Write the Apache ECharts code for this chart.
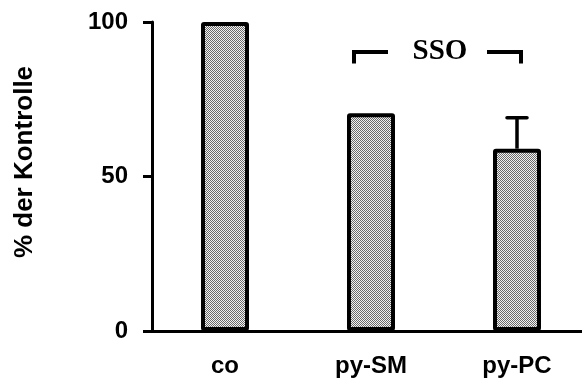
<!DOCTYPE html>
<html>
<head>
<meta charset="utf-8">
<script src="https://cdn.jsdelivr.net/npm/echarts@6/dist/echarts.min.js"></script>
<style>
  html, body { margin: 0; padding: 0; background: #fff; }
  #chart { width: 582px; height: 383px; }
</style>
</head>
<body>
<div id="chart"></div>
<script>
// Relative values (% of control) with standard deviation
const categories = ['co', 'py-SM', 'py-PC'];
const values = [100, 70.5, 59];
const errors = [0, 0, 10];
const yTicks = [0, 50, 100];

// SSO bracket spans the two treated groups
const bracketLabel = 'SSO';
const bracketLevel = 90.3;
const bracketDrop = 86.6;

// Fine checkered fill for the bars
function makePattern() {
  const c = document.createElement('canvas');
  c.width = 2; c.height = 2;
  const ctx = c.getContext('2d');
  ctx.fillStyle = '#f2f2f2';
  ctx.fillRect(0, 0, 2, 2);
  ctx.fillStyle = '#6a6a6a';
  ctx.fillRect(0, 0, 1, 1);
  ctx.fillRect(1, 1, 1, 1);
  return c;
}

const chart = echarts.init(document.getElementById('chart'), null, { renderer: 'canvas' });
const font = 'Arial';

chart.setOption({
  animation: false,
  backgroundColor: '#fff',
  grid: { left: 152, width: 438, top: 22, bottom: 52, outerBoundsMode: 'none', containLabel: false },
  xAxis: {
    type: 'category',
    data: categories,
    axisLine: { lineStyle: { color: '#000', width: 3 } },
    axisTick: { show: false },
    axisLabel: { color: '#000', fontFamily: font, fontWeight: 'bold', fontSize: 24, margin: 23 }
  },
  yAxis: {
    type: 'value',
    min: 0, max: 100, interval: 50,
    axisLine: { show: true, lineStyle: { color: '#000', width: 3 } },
    axisTick: { show: true, length: 9, lineStyle: { color: '#000', width: 3 } },
    splitLine: { show: false },
    axisLabel: {
      color: '#000', fontFamily: font, fontWeight: 'bold', fontSize: 24, margin: 24,
      formatter: v => (yTicks.indexOf(v) >= 0 ? String(v) : '')
    }
  },
  series: [
    {
      type: 'bar',
      data: values,
      barWidth: 48,
      itemStyle: {
        color: { image: makePattern(), repeat: 'repeat' },
        borderColor: '#000',
        borderWidth: 4,
        borderRadius: 1
      },
      z: 2
    },
    {
      type: 'custom',
      z: 1,
      data: categories.map((c, i) => [i, values[i], errors[i]]),
      renderItem: function (params, api) {
        const err = api.value(2);
        if (!err) return null;
        const top = api.coord([api.value(0), api.value(1) + err]);
        const base = api.coord([api.value(0), api.value(1)]);
        const half = 10;
        return {
          type: 'group',
          children: [
            { type: 'line', shape: { x1: top[0], y1: top[1], x2: base[0], y2: base[1] },
              style: { stroke: '#000', lineWidth: 3.5 } },
            { type: 'line', shape: { x1: top[0] - half, y1: top[1], x2: top[0] + half, y2: top[1] },
              style: { stroke: '#000', lineWidth: 3.5, lineCap: 'round' } }
          ]
        };
      }
    }
  ]
});

// Bracket, label and axis title
function drawBracket() {
  const left = chart.convertToPixel({ xAxisIndex: 0, yAxisIndex: 0 }, [1, bracketLevel]);
  const right = chart.convertToPixel({ xAxisIndex: 0, yAxisIndex: 0 }, [2, bracketLevel]);
  const drop = chart.convertToPixel({ yAxisIndex: 0 }, bracketDrop);
  const y = left[1];
  const mid = (left[0] + right[0]) / 2 - 4;
  const lx0 = left[0] - 17, lx1 = left[0] + 17;
  const rx0 = right[0] - 30, rx1 = right[0] + 4;
  const stroke = { stroke: '#000', lineWidth: 4, fill: null };
  chart.setOption({
    graphic: [
      { type: 'polyline', shape: { points: [[lx0, drop], [lx0, y], [lx1, y]] }, style: stroke },
      { type: 'polyline', shape: { points: [[rx0, y], [rx1, y], [rx1, drop]] }, style: stroke },
      { type: 'text', x: mid, y: y, style: {
          text: bracketLabel, fill: '#000', font: 'bold 29px "Liberation Serif", "Times New Roman", serif',
          textAlign: 'center', textVerticalAlign: 'middle' } },
      { type: 'text', x: 25, y: 162, rotation: Math.PI / 2, style: {
          text: '% der Kontrolle', fill: '#000', font: 'bold 26px Arial, sans-serif',
          textAlign: 'center', textVerticalAlign: 'middle' } }
    ]
  });
}
drawBracket();
</script>
</body>
</html>
